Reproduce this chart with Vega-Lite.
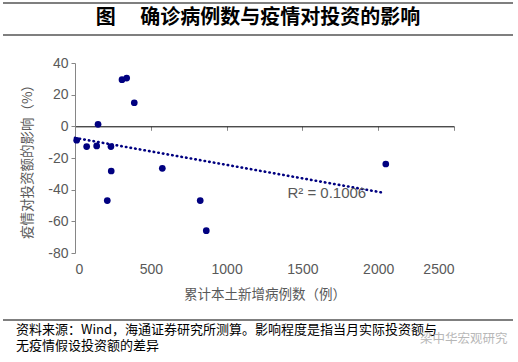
{
  "$schema": "https://vega.github.io/schema/vega-lite/v6.json",
  "width": 379,
  "height": 190,
  "autosize": {"type": "none"},
  "padding": {"left": 75, "top": 63, "right": 64, "bottom": 109},
  "background": "white",
  "config": {
    "view": {"stroke": null},
    "axis": {"grid": false, "labelFont": "Liberation Sans", "labelFontSize": 14, "labelColor": "#595959", "titleFont": "Noto Sans CJK SC", "titleFontWeight": "normal", "titleColor": "#595959", "titleFontSize": 13.5}
  },
  "datasets": {
    "pts": [
      {"x": 11, "y": -8.8},
      {"x": 77, "y": -12.8},
      {"x": 143, "y": -12.4},
      {"x": 152, "y": 1.3},
      {"x": 237, "y": -12.8},
      {"x": 239, "y": -28.2},
      {"x": 213, "y": -46.9},
      {"x": 310, "y": 29.5},
      {"x": 341, "y": 30.5},
      {"x": 391, "y": 14.9},
      {"x": 576, "y": -26.5},
      {"x": 826, "y": -46.9},
      {"x": 866, "y": -65.9},
      {"x": 2050, "y": -23.8}
    ],
    "trend": [
      {"x": 0, "y": -7.3},
      {"x": 2043, "y": -42.1}
    ],
    "r2": [{"x": 1401, "y": -42.1, "label": "R² = 0.1006"}],
    "notes": [
      {"t": "图　 确诊病例数与疫情对投资的影响", "k": "title"},
      {"t": "资料来源：Wind，海通证券研究所测算。影响程度是指当月实际投资额与\n无疫情假设投资额的差异", "k": "src"},
      {"t": "梁中华宏观研究", "k": "wm"}
    ]
  },
  "encoding": {
    "x": {"field": "x", "type": "quantitative", "scale": {"domain": [0, 2500], "nice": false, "zero": false},
      "axis": {"orient": "bottom", "values": [0, 500, 1000, 1500, 2000, 2500], "format": "d", "offset": -126.7, "domainColor": "#000000", "tickColor": "#868686", "tickSize": 4, "labelPadding": 132, "title": "累计本土新增病例数（例）", "titlePadding": 11}},
    "y": {"field": "y", "type": "quantitative", "scale": {"domain": [-80, 40], "nice": false, "zero": false},
      "axis": {"values": [-80, -60, -40, -20, 0, 20, 40], "labelExpr": "'' + datum.value", "domainColor": "#868686", "tickColor": "#868686", "tickSize": 4, "labelPadding": 3, "title": "疫情对投资额的影响（%）", "titlePadding": 13}}
  },
  "layer": [
    {
      "data": {"name": "pts"},
      "mark": {"type": "circle", "color": "#000080", "opacity": 1, "size": 45}
    },
    {
      "data": {"name": "trend"},
      "mark": {"type": "line", "color": "#000080", "strokeDash": [0.5, 4.2], "strokeWidth": 2.6, "strokeCap": "round"}
    },
    {
      "data": {"name": "r2"},
      "mark": {"type": "text", "align": "left", "baseline": "middle", "font": "Liberation Sans", "fontSize": 15, "color": "#595959"},
      "encoding": {"text": {"field": "label"}}
    },
    {
      "data": {"name": "notes"},
      "transform": [{"filter": "datum.k === 'title'"}],
      "mark": {"type": "text", "align": "center", "baseline": "middle", "font": "Noto Sans CJK SC", "fontSize": 20, "fontWeight": "bold", "color": "#000000"},
      "encoding": {"x": {"value": 183}, "y": {"value": -45}, "text": {"field": "t"}}
    },
    {
      "data": {"name": "notes"},
      "transform": [{"filter": "datum.k === 'src'"}],
      "mark": {"type": "text", "align": "left", "baseline": "alphabetic", "lineBreak": "\n", "lineHeight": 16, "font": "Noto Sans CJK SC", "fontSize": 13, "color": "#000000"},
      "encoding": {"x": {"value": -59}, "y": {"value": 271}, "text": {"field": "t"}}
    },
    {
      "data": {"name": "notes"},
      "transform": [{"filter": "datum.k === 'wm'"}],
      "mark": {"type": "text", "align": "left", "baseline": "middle", "font": "Noto Sans CJK SC", "fontSize": 12.5, "color": "#9a9a9a", "opacity": 0.7},
      "encoding": {"x": {"value": 345}, "y": {"value": 276}, "text": {"field": "t"}}
    },
    {
      "data": {"values": [{"a": 1}]},
      "mark": {"type": "rule", "color": "#000000", "strokeWidth": 1.2},
      "encoding": {"x": {"value": -72}, "x2": {"value": 438}, "y": {"value": -60}}
    },
    {
      "data": {"values": [{"a": 1}]},
      "mark": {"type": "rule", "color": "#000000", "strokeWidth": 1.2},
      "encoding": {"x": {"value": -72}, "x2": {"value": 438}, "y": {"value": -28}}
    },
    {
      "data": {"values": [{"a": 1}]},
      "mark": {"type": "rule", "color": "#000000", "strokeWidth": 1.2},
      "encoding": {"x": {"value": -72}, "x2": {"value": 438}, "y": {"value": 257}}
    }
  ]
}
